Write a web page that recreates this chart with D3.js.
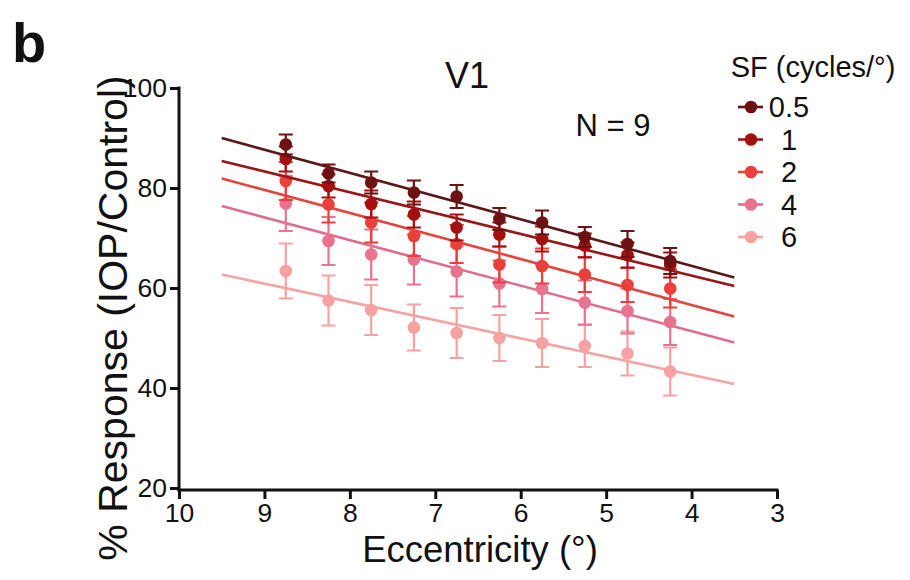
<!DOCTYPE html>
<html>
<head>
<meta charset="utf-8">
<script src="https://cdn.jsdelivr.net/npm/d3@7"></script>
<style>
  body { margin: 0; background: #fff; }
  svg text { font-family: "Liberation Sans", Arial, sans-serif; fill: #111; }
</style>
</head>
<body>
<svg id="chart" width="910" height="580"></svg>
<script>
// eccentricity bins (deg) and the mean % response for every SF
const eccentricity = [8.75, 8.25, 7.75, 7.25, 6.75, 6.25, 5.75, 5.25, 4.75, 4.25];
const sfLabels = ['0.5', '1', '2', '4', '6'];

const resp05 = [88.7, 82.9, 81.1, 79.1, 78.3, 73.8, 73.1, 70.2, 68.8, 65.4];
const resp1  = [85.8, 80.4, 76.8, 74.7, 72.1, 70.7, 69.8, 68.5, 66.6, 64.6];
const resp2  = [81.4, 76.7, 73.1, 70.4, 68.8, 64.7, 64.4, 62.7, 60.6, 59.9];
const resp4  = [76.9, 69.4, 66.7, 65.7, 63.3, 60.9, 59.8, 57.1, 55.4, 53.2];
const resp6  = [63.4, 57.5, 55.6, 52.1, 51.0, 50.0, 49.0, 48.4, 46.9, 43.3];

// error bar half lengths (SEM)
const err05 = [2.0, 1.8, 2.2, 2.4, 2.3, 2.2, 2.4, 2.0, 2.6, 2.6];
const err1  = [2.5, 2.3, 2.7, 2.6, 2.6, 2.4, 2.5, 2.4, 2.5, 2.5];
const err2  = [3.8, 3.6, 4.0, 4.0, 3.8, 3.6, 3.5, 3.5, 3.4, 3.8];
const err4  = [5.5, 4.8, 5.0, 5.0, 5.0, 4.6, 4.8, 4.4, 4.5, 4.6];
const err6  = [5.5, 5.0, 5.0, 4.6, 5.0, 4.6, 4.8, 4.2, 4.4, 4.8];

// regression line ends, read at x = 9.5 and x = 3.5
const fitX = [9.5, 3.5];
const fit05 = [90.0, 62.1];
const fit1  = [85.4, 60.4];
const fit2  = [81.9, 54.3];
const fit4  = [76.4, 49.1];
const fit6  = [62.7, 40.8];

const xTicks = [10, 9, 8, 7, 6, 5, 4, 3];
const yTicks = [20, 40, 60, 80, 100];

const dotColors  = ['#6d1212', '#a50f10', '#ea3f3b', '#e9728e', '#f6a2a2'];
const lineColors = ['#5b1717', '#9c1515', '#e4443d', '#e26c8b', '#f5a3a3'];

const series = [
    {resp: resp05, err: err05, fit: fit05},
    {resp: resp1,  err: err1,  fit: fit1},
    {resp: resp2,  err: err2,  fit: fit2},
    {resp: resp4,  err: err4,  fit: fit4},
    {resp: resp6,  err: err6,  fit: fit6}
];

const svg = d3.select('#chart');

//scales, eccentricity runs backwards
const xScale = d3.scaleLinear().domain([10, 3]).range([179, 777]);
const yScale = d3.scaleLinear().domain([20, 100]).range([488, 88]);

//axes
const xAxis = svg.append('g')
    .attr('transform', `translate(0, ${yScale(20) + 2})`)
    .call(d3.axisBottom(xScale).tickValues(xTicks).tickFormat(d3.format('d'))
        .tickSize(9).tickPadding(4).tickSizeOuter(0));
const yAxis = svg.append('g')
    .attr('transform', `translate(${xScale(10)}, 0)`)
    .call(d3.axisLeft(yScale).tickValues(yTicks).tickFormat(d3.format('d'))
        .tickSize(9).tickPadding(3).tickSizeOuter(0));

[xAxis, yAxis].forEach(ax => {
    ax.select('.domain').attr('stroke', '#111').attr('stroke-width', 3);
    ax.selectAll('.tick line').attr('stroke', '#111').attr('stroke-width', 3);
    ax.selectAll('.tick text').attr('font-size', '26.5px').attr('fill', '#111')
        .style('font-family', '"Liberation Sans", Arial, sans-serif');
});
yAxis.select('.domain').attr('d', `M0,${yScale(100) - 1.5}V${yScale(20) + 3.5}`);
xAxis.select('.domain').attr('d', `M${xScale(10) - 1.5},0H${xScale(3) + 1.5}`);

//draw from the lightest series upward so dark ones sit on top
const plot = svg.append('g');
series.slice().reverse().forEach((s, ri) => {
    const i = series.length - 1 - ri;
    const g = plot.append('g');

    g.append('line')
        .attr('x1', xScale(fitX[0])).attr('y1', yScale(s.fit[0]))
        .attr('x2', xScale(fitX[1])).attr('y2', yScale(s.fit[1]))
        .attr('stroke', lineColors[i]).attr('stroke-width', 2.6);

    const pts = eccentricity.map((e, j) => ({e: e, v: s.resp[j], d: s.err[j]}));

    g.selectAll('.bar').data(pts).enter().append('path')
        .attr('d', d => {
            const x = xScale(d.e), y0 = yScale(d.v - d.d), y1 = yScale(d.v + d.d);
            return `M${x},${y0}V${y1}M${x - 7},${y1}H${x + 7}M${x - 7},${y0}H${x + 7}`;
        })
        .attr('fill', 'none')
        .attr('stroke', dotColors[i]).attr('stroke-width', 2.2);

    g.selectAll('.dot').data(pts).enter().append('circle')
        .attr('cx', d => xScale(d.e))
        .attr('cy', d => yScale(d.v))
        .attr('r', 6.3)
        .attr('fill', dotColors[i]);
});

//titles
svg.append('text').attr('x', 12).attr('y', 62)
    .attr('font-size', '56px').attr('font-weight', 'bold').text('b');
svg.append('text').attr('x', 467).attr('y', 88).attr('text-anchor', 'middle')
    .attr('font-size', '36px').text('V1');
svg.append('text').attr('x', 613).attr('y', 136).attr('text-anchor', 'middle')
    .attr('font-size', '31px').text('N = 9');
svg.append('text').attr('x', 480).attr('y', 562).attr('text-anchor', 'middle')
    .attr('font-size', '36.5px').text('Eccentricity (°)');
svg.append('text')
    .attr('transform', `translate(127, 318) rotate(-90)`)
    .attr('text-anchor', 'middle')
    .attr('font-size', '41px').text('% Response (IOP/Control)');

//legend
const legend = svg.append('g');
legend.append('text').attr('x', 813).attr('y', 77).attr('text-anchor', 'middle')
    .attr('font-size', '29px').text('SF (cycles/°)');
sfLabels.forEach((lab, i) => {
    const y = 107 + i * 32.5;
    legend.append('line').attr('x1', 738).attr('x2', 763).attr('y1', y).attr('y2', y)
        .attr('stroke', lineColors[i]).attr('stroke-width', 2.6);
    legend.append('circle').attr('cx', 751).attr('cy', y).attr('r', 6.3).attr('fill', dotColors[i]);
    legend.append('text').attr('x', 789).attr('y', y + 10).attr('text-anchor', 'middle')
        .attr('font-size', '29px').text(lab);
});
</script>
</body>
</html>
